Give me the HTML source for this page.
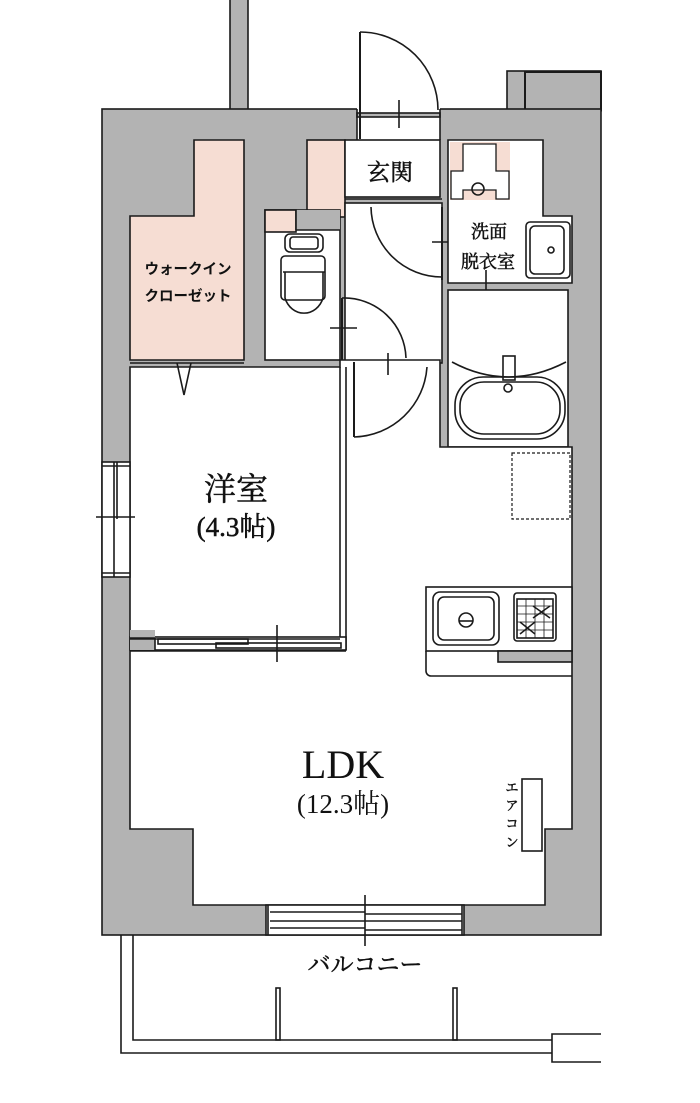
<!DOCTYPE html>
<html><head><meta charset="utf-8"><style>
html,body{margin:0;padding:0;background:#fff;}
svg{display:block;}
text{font-family:"Liberation Serif","Noto Serif CJK SC","Noto Sans CJK JP",serif;fill:#111;}
.s{font-family:"Liberation Sans","Noto Sans CJK JP",sans-serif;}
.b{stroke:#111;stroke-width:0.5;}
</style></head><body>
<svg width="700" height="1103" viewBox="0 0 700 1103" xmlns="http://www.w3.org/2000/svg">
<g stroke="#1a1a1a" stroke-width="1.6" fill="none">
<rect x="230" y="-2" width="18" height="112" fill="#b3b3b3"/>
<rect x="507" y="71" width="94" height="40" fill="#b3b3b3"/>
<rect x="525" y="72" width="76" height="38" fill="#b3b3b3" stroke-width="2"/>
<rect x="102" y="109" width="499" height="826" fill="#b3b3b3"/>
<rect x="357" y="108" width="83" height="34" fill="#fff" stroke="none"/>
<rect x="357" y="113" width="83" height="4" fill="#b3b3b3"/>
<line x1="357" y1="109" x2="357" y2="140"/><line x1="440" y1="109" x2="440" y2="140"/>
<line x1="360" y1="32" x2="360" y2="139" stroke-width="2"/>
<path d="M360 32 A78 78 0 0 1 438 110"/>
<line x1="399" y1="100" x2="399" y2="128"/>
<path d="M194 140 L244 140 L244 360 L130 360 L130 216 L194 216 Z" fill="#f6ddd3"/>
<rect x="307" y="140" width="38" height="77" fill="#f6ddd3"/>
<rect x="265" y="210" width="75" height="150" fill="#fff"/>
<rect x="265" y="210" width="31" height="22" fill="#f6ddd3"/>
<rect x="296" y="210" width="44" height="20" fill="#b3b3b3" stroke="none"/>
<line x1="296" y1="210" x2="296" y2="230"/><line x1="296" y1="230" x2="340" y2="230"/>
<rect x="285" y="234" width="38" height="18" rx="5" fill="#fff"/>
<rect x="290" y="237" width="28" height="12" rx="3"/>
<path d="M285 256 h36 a4 4 0 0 1 4 4 v36 a4 4 0 0 1 -4 4 h-36 a4 4 0 0 1 -4 -4 v-36 a4 4 0 0 1 4 -4z" fill="#fff"/>
<path d="M283 272 h42 M285 272 v26 a20 22 0 0 0 38 0 v-26"/>
<rect x="345" y="140" width="95" height="57" fill="#fff"/>
<rect x="345" y="203" width="97" height="160" fill="#fff"/>
<line x1="345" y1="199" x2="442" y2="199"/>
<path d="M371 207 A71 71 0 0 0 442 277"/>
<line x1="442" y1="207" x2="442" y2="280" stroke-width="2"/>
<line x1="432" y1="242" x2="456" y2="242"/>
<line x1="342" y1="298" x2="342" y2="360" stroke-width="2"/>
<path d="M342 298 A62 62 0 0 1 406 358"/>
<line x1="330" y1="328" x2="357" y2="328"/>
<path d="M448 140 L543 140 L543 216 L572 216 L572 283 L448 283 Z" fill="#fff"/>
<rect x="450" y="142" width="60" height="58" fill="#f6ddd3" stroke="none"/>
<path d="M451 171 h12 v-27 h33 v27 h13 v28 h-13 v-9 h-33 v9 h-12z" fill="#fff" stroke-width="1.3"/>
<circle cx="478" cy="189" r="6"/>
<rect x="526" y="222" width="44" height="56" rx="4" fill="#fff"/>
<rect x="530" y="226" width="34" height="48" rx="5"/>
<circle cx="551" cy="250" r="3"/>
<line x1="486" y1="270" x2="486" y2="300"/>
<path d="M455 290 L463 318 L470 290"/>
<rect x="448" y="290" width="120" height="157" fill="#fff"/>
<path d="M452 362 Q508 392 566 362"/>
<rect x="503" y="356" width="12" height="24"/>
<rect x="455" y="377" width="110" height="62" rx="28"/>
<rect x="460" y="382" width="100" height="52" rx="24"/>
<circle cx="508" cy="388" r="4"/>
<path d="M130 367 L340 367 L340 360 L440 360 L440 447 L572 447 L572 829 L545 829 L545 905 L193 905 L193 829 L130 829 Z" fill="#fff"/>
<line x1="130" y1="363" x2="244" y2="363"/>
<path d="M177 363 L184 395 L191 363"/>
<line x1="354" y1="362" x2="354" y2="437" stroke-width="2"/>
<path d="M354 437 A75 75 0 0 0 427 367"/>
<line x1="388" y1="353" x2="388" y2="375"/>
<line x1="346" y1="367" x2="346" y2="650"/>
<line x1="340" y1="367" x2="340" y2="650"/>
<rect x="130" y="637" width="216" height="13" fill="#fff"/>
<rect x="130" y="630" width="25" height="20" fill="#b3b3b3" stroke="none"/>
<line x1="130" y1="638" x2="155" y2="638"/>
<line x1="155" y1="638" x2="155" y2="651"/>
<rect x="158" y="639" width="90" height="5"/>
<rect x="216" y="643" width="125" height="5"/>
<line x1="130" y1="651" x2="346" y2="651"/>
<line x1="130" y1="639" x2="340" y2="639"/>
<line x1="277" y1="625" x2="277" y2="662"/>
<rect x="102" y="462" width="28" height="115" fill="#fff"/>
<line x1="102" y1="466" x2="130" y2="466"/><line x1="102" y1="573" x2="130" y2="573"/>
<line x1="114" y1="462" x2="114" y2="577"/><line x1="117" y1="462" x2="117" y2="519"/>
<line x1="96" y1="517" x2="135" y2="517"/>
<rect x="512" y="453" width="58" height="66" stroke-dasharray="3 2" stroke-width="1.2"/>
<rect x="426" y="587" width="146" height="64" fill="#fff"/>
<rect x="498" y="651" width="74" height="11" fill="#b3b3b3"/>
<path d="M426 651 v20 a5 5 0 0 0 5 5 h141"/>
<rect x="433" y="592" width="66" height="53" rx="7"/>
<rect x="438" y="597" width="56" height="43" rx="6"/>
<circle cx="466" cy="620" r="7"/><line x1="459" y1="621" x2="473" y2="621"/>
<rect x="514" y="593" width="42" height="48" rx="3"/>
<rect x="517" y="599" width="36" height="39"/>
<path d="M517 606 h36 M517 614 h36 M517 622 h36 M517 630 h36 M526 599 v39 M535 599 v39 M544 599 v39" stroke-width="0.8"/>
<path d="M533 606 L550 618 M533 618 L550 606 M520 622 L535 634 M520 634 L535 622" stroke-width="1.5"/>
<rect x="522" y="779" width="20" height="72" fill="#fff"/>
<rect x="266" y="905" width="198" height="30" fill="#fff"/>
<line x1="268" y1="905" x2="268" y2="935"/><line x1="462" y1="905" x2="462" y2="935"/>
<line x1="270" y1="912" x2="365" y2="912"/><line x1="365" y1="914" x2="462" y2="914"/>
<line x1="270" y1="921" x2="462" y2="921"/>
<line x1="270" y1="928" x2="365" y2="928"/><line x1="365" y1="930" x2="462" y2="930"/>
<line x1="365" y1="895" x2="365" y2="946"/>
<path d="M121 935 V1053 H552"/>
<path d="M133 935 V1040 H552"/>
<path d="M601 1034 H552 V1062 H601"/>
<rect x="276" y="988" width="4" height="52"/>
<rect x="453" y="988" width="4" height="52"/>
</g>
<text class="b" x="390" y="180" font-size="23" text-anchor="middle">玄関</text>
<text class="s" x="188" y="274" font-size="14.5" font-weight="bold" text-anchor="middle">ウォークイン</text>
<text class="s" x="188" y="301" font-size="14.5" font-weight="bold" text-anchor="middle">クローゼット</text>
<text class="b" x="489" y="238" font-size="18" text-anchor="middle">洗面</text>
<text class="b" x="488" y="268" font-size="18" text-anchor="middle">脱衣室</text>
<text class="b" x="236" y="500" font-size="32" text-anchor="middle">洋室</text>
<text class="b" x="236" y="536" font-size="27" text-anchor="middle">(4.3帖)</text>
<text x="343" y="778" font-size="40" text-anchor="middle">LDK</text>
<text x="343" y="813" font-size="27" text-anchor="middle">(12.3帖)</text>
<text class="b" x="512" y="792" font-size="13" text-anchor="middle">エ</text>
<text class="b" x="512" y="810" font-size="13" text-anchor="middle">ア</text>
<text class="b" x="512" y="828" font-size="13" text-anchor="middle">コ</text>
<text class="b" x="512" y="847" font-size="13" text-anchor="middle">ン</text>
<text class="b" x="365" y="972" font-size="23" text-anchor="middle">バルコニー</text>
</svg>
</body></html>
